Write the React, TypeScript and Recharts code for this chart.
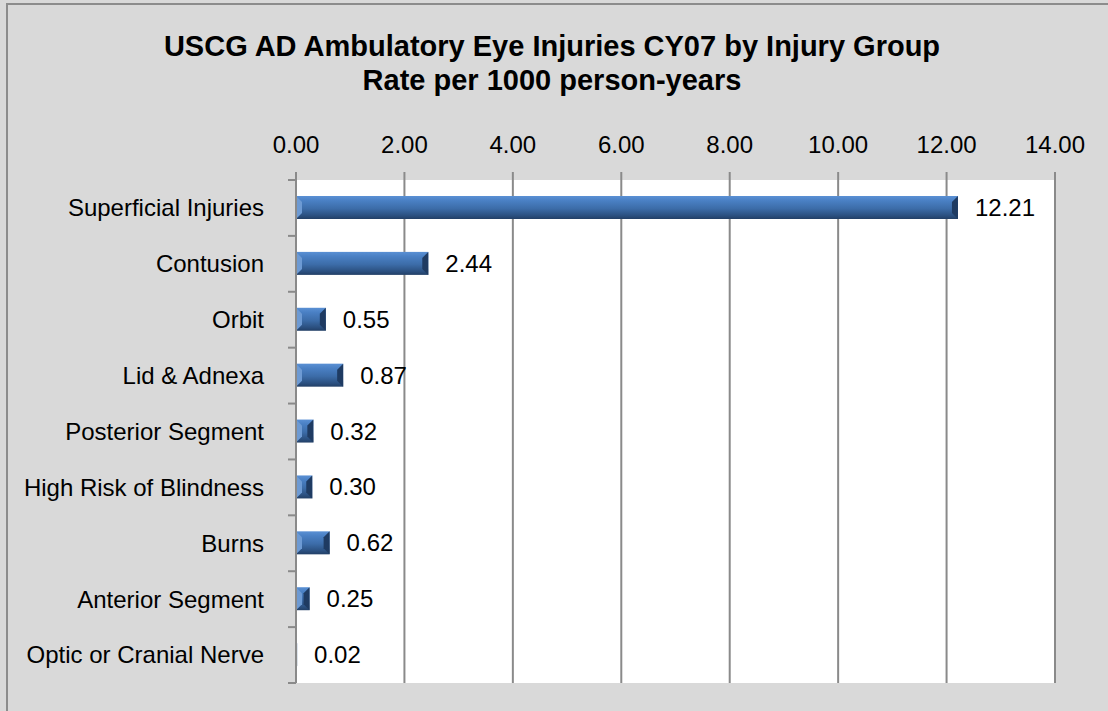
import React from "react";
import {
  BarChart,
  Bar,
  XAxis,
  YAxis,
  CartesianGrid,
  LabelList,
} from "recharts";

const categories = [
  "Superficial Injuries",
  "Contusion",
  "Orbit",
  "Lid & Adnexa",
  "Posterior Segment",
  "High Risk of Blindness",
  "Burns",
  "Anterior Segment",
  "Optic or Cranial Nerve",
];

const rates = [12.21, 2.44, 0.55, 0.87, 0.32, 0.3, 0.62, 0.25, 0.02];

const xTicks = [0, 2, 4, 6, 8, 10, 12, 14];

const data = categories.map((name, i) => ({ name, value: rates[i] }));

const W = 1108;
const H = 711;
const MARGIN = { top: 130, right: 53, bottom: 28, left: 0 };
const X_AXIS_H = 50;
const Y_AXIS_W = 296;
const BAND = (H - MARGIN.top - MARGIN.bottom - X_AXIS_H) / categories.length;

const FONT = "'Liberation Sans', Arial, sans-serif";
const GRID = "#8a8a8a";

function BevelBar(props: any) {
  const { x, y, width, height } = props;
  if (!width || width <= 0) return null;
  const b = Math.min(6, width / 2, height / 2);
  return (
    <g>
      <rect x={x} y={y} width={width} height={height} fill="url(#barGrad)" />
      <polygon
        points={`${x},${y} ${x + b},${y + b} ${x + b},${y + height - b} ${x},${y + height}`}
        fill="#6d9ad3"
      />
      <polygon
        points={`${x + width},${y} ${x + width},${y + height} ${x + width - b},${y + height - b} ${x + width - b},${y + b}`}
        fill="#1f3b62"
      />
    </g>
  );
}

function CategoryTick(props: any) {
  const { x, y, payload, index } = props;
  const lineX = x + 24;
  return (
    <g>
      <text
        x={x}
        y={y}
        dy="0.35em"
        textAnchor="end"
        fill="#000"
        fontSize={24}
        fontFamily={FONT}
      >
        {payload.value}
      </text>
      <line
        x1={lineX}
        x2={lineX + 8}
        y1={y - BAND / 2}
        y2={y - BAND / 2}
        stroke={GRID}
        strokeWidth={2}
      />
      {index === categories.length - 1 && (
        <line
          x1={lineX}
          x2={lineX + 8}
          y1={y + BAND / 2}
          y2={y + BAND / 2}
          stroke={GRID}
          strokeWidth={2}
        />
      )}
    </g>
  );
}

export default function App() {
  return (
    <div
      style={{
        position: "relative",
        width: W,
        height: H,
        background: "#d9d9d9",
        overflow: "hidden",
      }}
    >
      <style>{`body{margin:0}`}</style>
      <div
        style={{
          position: "absolute",
          left: 6,
          top: 3,
          right: -10,
          bottom: -10,
          borderLeft: "2px solid #8c8c8c",
          borderTop: "2px solid #8c8c8c",
        }}
      />
      <div
        style={{
          position: "absolute",
          left: 0,
          top: 29,
          width: 1104,
          textAlign: "center",
          fontFamily: FONT,
          fontWeight: "bold",
          fontSize: 29,
          lineHeight: "34px",
          color: "#000",
        }}
      >
        USCG AD Ambulatory Eye Injuries CY07 by Injury Group
        <br />
        Rate per 1000 person-years
      </div>
      <div style={{ position: "absolute", left: 0, top: 0 }}>
        <BarChart
          width={W}
          height={H}
          data={data}
          layout="vertical"
          margin={MARGIN}
          barSize={23}
        >
          <defs>
            <linearGradient id="barGrad" x1="0" y1="0" x2="0" y2="1">
              <stop offset="0%" stopColor="#5a90d4" />
              <stop offset="20%" stopColor="#4a80c4" />
              <stop offset="55%" stopColor="#3c6ca8" />
              <stop offset="85%" stopColor="#2b5080" />
              <stop offset="100%" stopColor="#223f66" />
            </linearGradient>
          </defs>
          <CartesianGrid
            horizontal={false}
            fill="#ffffff"
            stroke={GRID}
            strokeWidth={2}
          />
          <XAxis
            type="number"
            orientation="top"
            domain={[0, 14]}
            ticks={xTicks}
            height={X_AXIS_H}
            tickFormatter={(v: number) => v.toFixed(2)}
            axisLine={false}
            tickLine={{ stroke: GRID, strokeWidth: 2 }}
            tickSize={8}
            tickMargin={19}
            tick={{ fill: "#000", fontSize: 24, fontFamily: FONT }}
            interval={0}
          />
          <YAxis
            type="category"
            dataKey="name"
            width={Y_AXIS_W}
            axisLine={{ stroke: GRID, strokeWidth: 2 }}
            tickLine={false}
            tickSize={8}
            tickMargin={24}
            tick={<CategoryTick />}
            interval={0}
          />
          <Bar
            dataKey="value"
            shape={<BevelBar />}
            isAnimationActive={false}
          >
            <LabelList
              dataKey="value"
              position="right"
              offset={17}
              formatter={(v: number) => v.toFixed(2)}
              fill="#000"
              fontSize={24}
              fontFamily={FONT}
            />
          </Bar>
        </BarChart>
      </div>
    </div>
  );
}
